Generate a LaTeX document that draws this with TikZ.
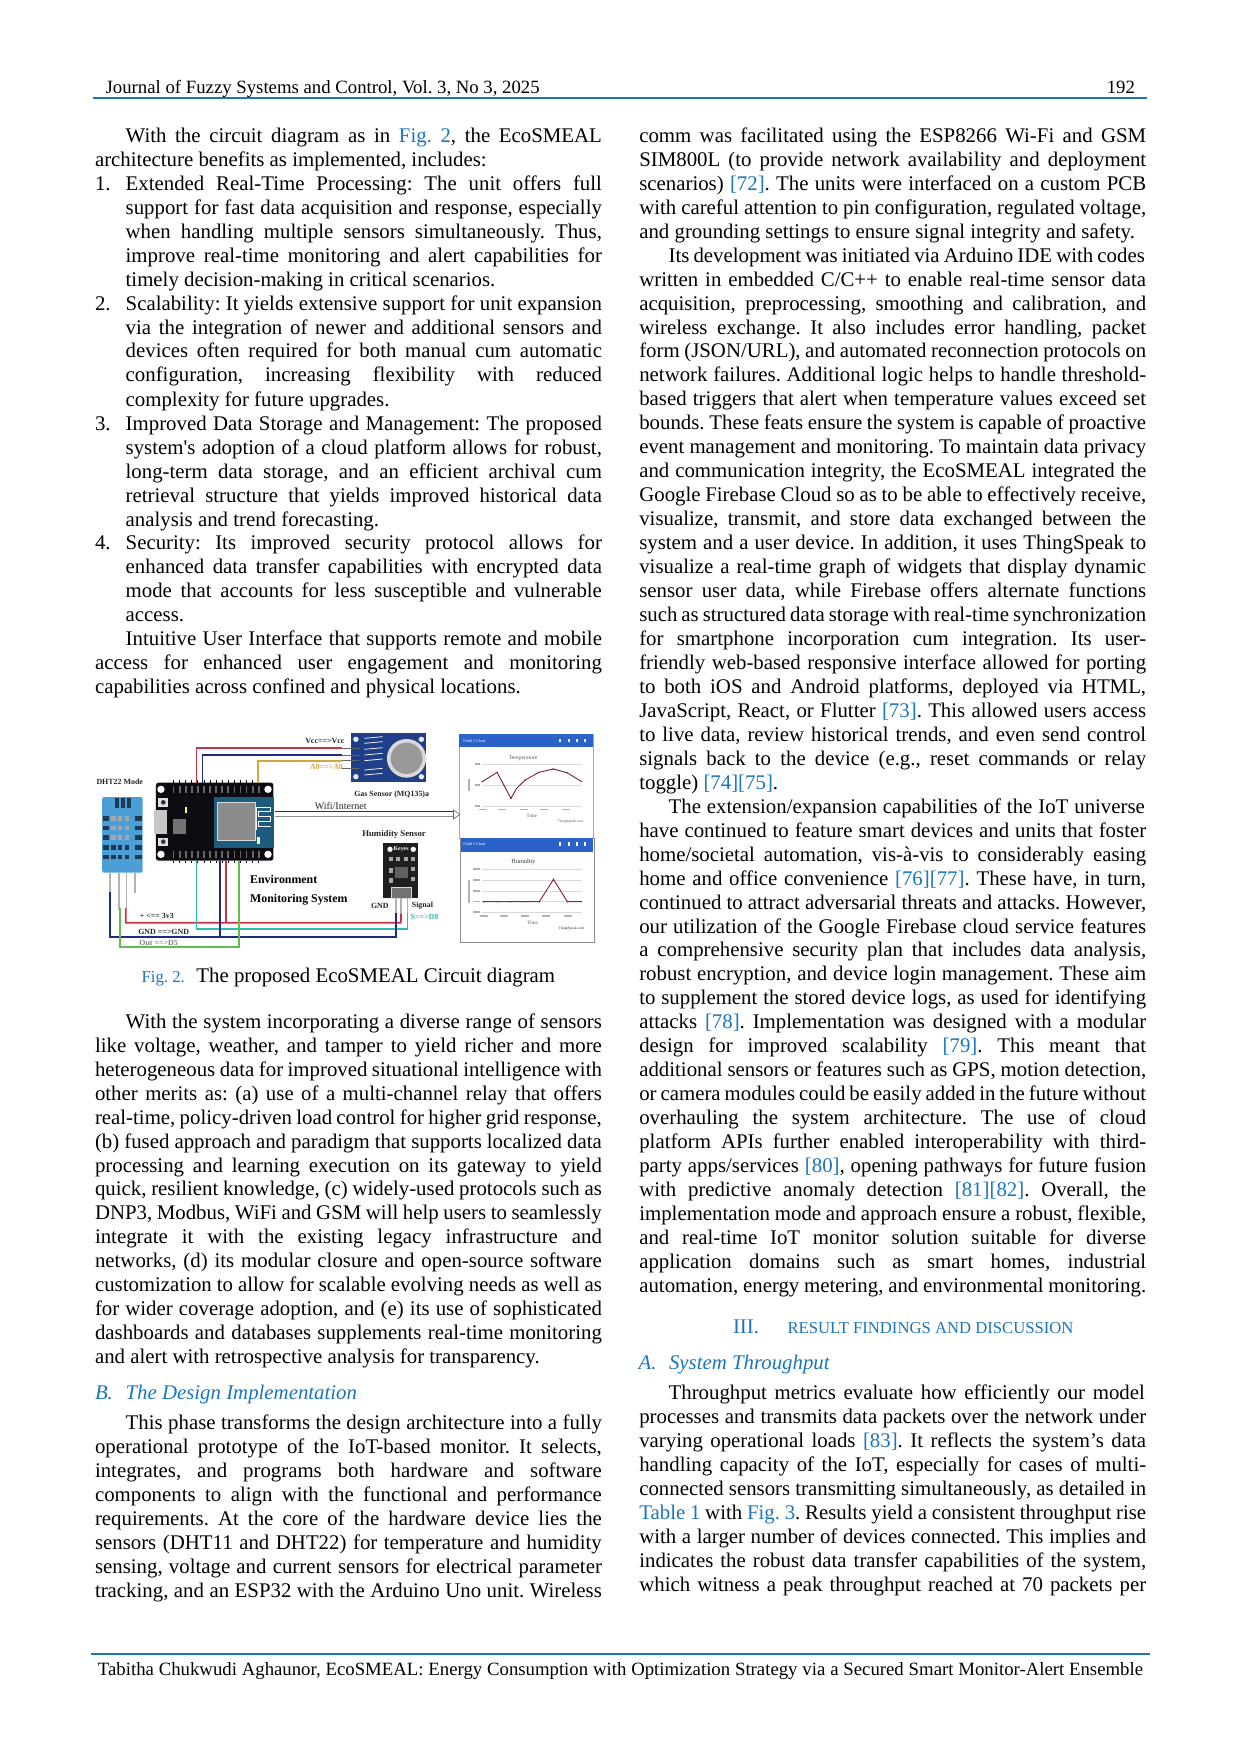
\documentclass[tikz,border=0pt]{standalone}
\usepackage{fontspec}
\setmainfont{Liberation Serif}[Ligatures=TeXOff]
\usepackage{xcolor}
\usetikzlibrary{arrows,shapes,positioning,fit,backgrounds}
\definecolor{linkblue}{RGB}{27, 117, 188}
\definecolor{pcbblack}{RGB}{12, 12, 18}
\definecolor{dhtblue}{RGB}{76, 158, 214}
\definecolor{dhtdark}{RGB}{30, 58, 80}
\definecolor{espteal}{RGB}{29, 92, 124}
\definecolor{gasnavy}{RGB}{31, 63, 136}
\definecolor{panelblue}{RGB}{42, 98, 201}
\definecolor{wirered}{RGB}{200, 51, 63}
\definecolor{wirenavy}{RGB}{28, 42, 140}
\definecolor{wiregold}{RGB}{216, 165, 60}
\definecolor{wireteal}{RGB}{45, 190, 172}
\definecolor{wiregreen}{RGB}{95, 191, 75}
\definecolor{plotred}{RGB}{130, 40, 60}
\newcommand{\lnk}[1]{\textcolor{linkblue}{#1}}
\newcommand{\jfull}[1]{\makebox[243.3pt][s]{#1}}
\newcommand{\jind}[1]{\makebox[228.6pt][s]{#1}}
\tikzset{
  bodyline/.style={anchor=base west, inner sep=0pt, outer sep=0pt, font=\fontsize{10}{12}\selectfont\frenchspacing},
  headline/.style={bodyline, text=linkblue, font=\fontsize{10}{12}\selectfont\itshape\frenchspacing},
  smallline/.style={bodyline, font=\fontsize{9}{11}\selectfont\frenchspacing},
  pagerule/.style={draw=linkblue, line width=1.1pt},
  figlabel/.style={inner sep=0pt, font=\fontsize{3.8}{4.5}\selectfont\bfseries, text=black!85},
  tinylabel/.style={inner sep=0pt, font=\fontsize{2}{2.5}\selectfont, text=black!65},
  wire/.style={line width=0.85pt},
  pinline/.style={draw=black!30, line width=0.9pt},
  gridline/.style={draw=black!15, line width=0.2pt},
  plotline/.style={draw=plotred, line width=0.45pt},
  blurtick/.style={fill=black!30}
}
\begin{document}
\begin{tikzpicture}[x=0.48pt, y=-0.48pt]
  \useasboundingbox (0,0) rectangle (1240,1754);
  \fill[white] (0,0) rectangle (1240,1754);

  % header
  \node[smallline] (journal) at (105.7,93.2) {Journal of Fuzzy Systems and Control, Vol. 3, No 3, 2025};
  \node[smallline] (pageno) at (1106.8,93.2) {192};
  \draw[pagerule] (93,97.7) -- (1147,97.7);

  % left column, above the figure
  \node[bodyline] (la1) at (125.7,142.3) {\jind{With the circuit diagram as in \lnk{Fig. 2}, the EcoSMEAL}};
  \node[bodyline] (la2) at (95,166.3) {architecture benefits as implemented, includes:};
  \node[bodyline] (numa) at (95,190.2) {1.};
  \node[bodyline] (la3) at (125.7,190.2) {\jind{Extended Real-Time Processing: The unit offers full}};
  \node[bodyline] (la4) at (125.7,214.2) {\jind{support for fast data acquisition and response, especially}};
  \node[bodyline] (la5) at (125.7,238.1) {\jind{when handling multiple sensors simultaneously. Thus,}};
  \node[bodyline] (la6) at (125.7,262.1) {\jind{improve real-time monitoring and alert capabilities for}};
  \node[bodyline] (la7) at (125.7,286.1) {timely decision-making in critical scenarios.};
  \node[bodyline] (numb) at (95,310.0) {2.};
  \node[bodyline] (la8) at (125.7,310.0) {\jind{Scalability: It yields extensive support for unit expansion}};
  \node[bodyline] (la9) at (125.7,334.0) {\jind{via the integration of newer and additional sensors and}};
  \node[bodyline] (la10) at (125.7,357.9) {\jind{devices often required for both manual cum automatic}};
  \node[bodyline] (la11) at (125.7,381.9) {\jind{configuration, increasing flexibility with reduced}};
  \node[bodyline] (la12) at (125.7,406.4) {complexity for future upgrades.};
  \node[bodyline] (numc) at (95,430.3) {3.};
  \node[bodyline] (la13) at (125.7,430.3) {\jind{Improved Data Storage and Management: The proposed}};
  \node[bodyline] (la14) at (125.7,454.3) {\jind{system's adoption of a cloud platform allows for robust,}};
  \node[bodyline] (la15) at (125.7,478.2) {\jind{long-term data storage, and an efficient archival cum}};
  \node[bodyline] (la16) at (125.7,502.2) {\jind{retrieval structure that yields improved historical data}};
  \node[bodyline] (la17) at (125.7,526.2) {analysis and trend forecasting.};
  \node[bodyline] (numd) at (95,549.6) {4.};
  \node[bodyline] (la18) at (125.7,549.6) {\jind{Security: Its improved security protocol allows for}};
  \node[bodyline] (la19) at (125.7,573.6) {\jind{enhanced data transfer capabilities with encrypted data}};
  \node[bodyline] (la20) at (125.7,597.5) {\jind{mode that accounts for less susceptible and vulnerable}};
  \node[bodyline] (la21) at (125.7,621.5) {access.};
  \node[bodyline] (la22) at (125.7,645.4) {\jind{Intuitive User Interface that supports remote and mobile}};
  \node[bodyline] (la23) at (95,669.4) {\jfull{access for enhanced user engagement and monitoring}};
  \node[bodyline] (la24) at (95,693.4) {capabilities across confined and physical locations.};

  % figure, in its own pixel grid
  \begin{scope}[shift={(90,720)}, x=0.16216pt, y=-0.16pt]
    % DHT22 sensor
    \foreach \pinx/\pinend in {60/520, 85/570, 108/570, 133/520}
      \draw[pinline] (\pinx,458) -- (\pinx,\pinend);
    \fill[dhtblue, rounded corners=1pt] (36,231) rectangle (156,458);
    \foreach \barx in {73,91,110}
      \fill[dhtdark] (\barx,235) rectangle +(12,28);
    \foreach \rowy/\midcol in {288/black!35, 317/black!35, 346/black!35, 376/dhtdark, 404/dhtdark} {
      \fill[dhtdark] (39,\rowy) rectangle +(16,14);
      \fill[dhtdark] (133,\rowy) rectangle +(22,14);
      \foreach \segx in {63,83,103}
        \fill[\midcol] (\segx,\rowy) rectangle +(13,14);
    }
    \node[figlabel] (dhtlabel) at (88,185) {DHT22 Mode};

    % NodeMCU board
    \fill[pcbblack, rounded corners=1.3pt] (195,188) rectangle (543,422);
    \foreach \holex/\holey in {210/208, 527/208, 210/403, 527/403}
      \fill[white] (\holex,\holey) circle (11);
    \foreach \padx in {245,263,...,500} {
      \fill[black!60] (\padx,198) rectangle +(5,20);
      \fill[black!60] (\padx,393) rectangle +(5,20);
      \fill[pcbblack] (\padx+1,180) rectangle +(3,8);
      \fill[pcbblack] (\padx+1,422) rectangle +(3,8);
    }
    \fill[black!22] (189,270) rectangle (227,343);
    \fill[black!55] (247,298) rectangle (283,343);
    \fill[yellow!45] (280,260) rectangle (286,278);
    \foreach \btny in {235,353} {
      \fill[black!12] (202,\btny) rectangle +(30,25);
      \fill[black!80] (217,\btny+12) circle (7);
    }
    \fill[espteal] (368,230) rectangle (545,383);
    \draw[fill=black!45, draw=black!15, line width=0.3pt] (378,247) rectangle (488,362);
    \draw[white, line width=0.4pt] (492,330) -- (492,262) -- (535,262) -- (535,275) -- (500,275) -- (500,290) -- (535,290) -- (535,305) -- (500,305) -- (500,320) -- (535,320);
    \fill[yellow!35] (495,352) rectangle (503,372);

    % gas sensor
    \fill[gasnavy] (772,40) rectangle (996,187);
    \foreach \holex/\holey in {787/58, 981/58, 787/170, 981/170}
      \fill[black!8] (\holex,\holey) circle (8);
    \fill[black!15] (937,115) circle (58);
    \fill[black!40] (937,115) circle (47);
    \foreach \marky in {55,70,88,105,122,150,165}
      \draw[white, line width=0.35pt] (812,\marky) -- (866,\marky-5);
    \foreach \pinname/\piny in {gasvcc/85, gasgnd/105, gasao/122, gasdo/145} {
      \coordinate (\pinname) at (745,\piny);
      \draw[black!60, line width=0.35pt] (745,\piny) -- (795,\piny);
    }
    \node[figlabel] (gaslabel) at (893,223) {Gas Sensor (MQ135)a};

    % humidity module
    \fill[black!88] (868,368) rectangle (972,535);
    \foreach \holex in {888,957}
      \fill[white] (\holex,388) circle (8);
    \node[inner sep=0pt, text=white, font=\fontsize{2.8}{3}\selectfont\bfseries] (keyes) at (921,388) {Keyes};
    \foreach \padx/\pady in {885/410, 905/410, 930/410, 950/410, 885/445, 885/475, 950/440, 950/470}
      \fill[black!35] (\padx,\pady) rectangle +(12,14);
    \fill[black!62] (903,440) rectangle (942,475);
    \draw[draw=black!15, fill=black!55, line width=0.35pt] (893,503) rectangle (952,535);
    \foreach \pinname/\pinx in {humg/905, humv/921, hums/940} {
      \coordinate (\pinname) at (\pinx,580);
      \draw[pinline] (\pinx,535) -- (\pinx,580);
    }
    \node[figlabel, font=\fontsize{4.2}{5}\selectfont\bfseries] (humlabel) at (900,342) {Humidity Sensor};
    \node[figlabel] (gndlabel) at (858,558) {GND};
    \node[figlabel] (signallabel) at (984,556) {Signal};
    \node[figlabel, text=wireteal] (slabel) at (990,590) {S==>D8};

    % board pins
    \coordinate (boardred) at (315,188);
    \coordinate (boardnavy) at (333,188);
    \coordinate (boardgold) at (497,188);
    \coordinate (boardteal) at (315,422);
    \coordinate (boardgnd) at (385,422);
    \coordinate (boardvcc) at (403,422);
    \coordinate (boardgreen) at (441,422);
    \coordinate (dhtgnd) at (60,515);
    \coordinate (dhtout) at (88,565);
    \coordinate (dhtvcc) at (106,565);
    \coordinate (redcorner) at (920,608);
    \coordinate (tealcorner) at (940,628);
    \coordinate (navycorner) at (905,652);
    \coordinate (greencorner) at (441,682);

    % wires
    \draw[wire, wirered] (boardred) |- (gasvcc);
    \draw[wire, wirenavy] (boardnavy) |- (gasgnd);
    \draw[wire, wiregold] (boardgold) |- (gasao);
    \draw[wire, wirered] (dhtvcc) |- (redcorner) -- (humv);
    \draw[wire, wirered] (boardvcc) -- (boardvcc |- redcorner);
    \draw[wire, wireteal] (boardteal) |- (tealcorner) -- (hums);
    \draw[wire, wirenavy] (dhtgnd) |- (navycorner) -- (humg);
    \draw[wire, wirenavy] (boardgnd) -- (boardgnd |- navycorner);
    \draw[wire, wiregreen] (dhtout) |- (greencorner) -- (boardgreen);

    \node[figlabel] (vcclabel) at (695,62) {Vcc==>Vcc};
    \node[figlabel, text=wiregold] (aolabel) at (700,140) {A0==>A0};
    \node[figlabel] (plabel) at (198,588) {+ <== 3v3};
    \node[figlabel] (glabel) at (218,636) {GND ==>GND};
    \node[figlabel, text=black!50] (olabel) at (203,668) {Out ==>D5};
    \node[inner sep=0pt, font=\fontsize{5.7}{7}\selectfont\bfseries, anchor=base west] (envlabel) at (473,490) {Environment};
    \node[inner sep=0pt, font=\fontsize{5.7}{7}\selectfont\bfseries, anchor=base west] (monlabel) at (473,547) {Monitoring System};
    \node[figlabel, font=\fontsize{4.8}{5}\selectfont] (wifilabel) at (742,257) {Wifi/Internet};

    % dashboards
    \draw[draw=black!35, fill=white, line width=0.3pt] (1093,42) rectangle (1490,354);
    \fill[panelblue] (1093,42) rectangle (1490,82);
    \draw[draw=black!45, fill=white, line width=0.3pt] (1097,355) rectangle (1492,667);
    \fill[panelblue] (1097,355) rectangle (1490,395);
    \node[tinylabel, text=white] (headup) at (1138,62) {Field 1 Chart};
    \node[tinylabel, text=white] (headlow) at (1138,372) {Field 1 Chart};
    \foreach \iconx in {1390,1417,1442,1466} {
      \fill[white] (\iconx-3,57) rectangle +(6,10);
      \fill[white] (\iconx-3,367) rectangle +(6,10);
    }

    % temperature chart
    \foreach \gridy in {133,195,258} {
      \draw[gridline] (1161,\gridy) -- (1455,\gridy);
      \fill[blurtick] (1140,\gridy-3) rectangle +(14,5);
    }
    \foreach \tickx in {1162,1220,1285,1345,1408}
      \fill[blurtick] (\tickx-12,266) rectangle +(24,5);
    \fill[blurtick] (1119,178) rectangle +(5,36);
    \draw[plotline] (1161,185) -- (1205,157) -- (1226,197) -- (1246,235) -- (1263,205) -- (1288,180) -- (1329,157) -- (1371,147) -- (1412,158) -- (1454,184);
    \foreach \ptx/\pty in {1161/185, 1205/157, 1226/197, 1246/235, 1288/180, 1329/157, 1371/147, 1412/158, 1454/184}
      \fill[plotred] (\ptx,\pty) circle (2.5);
    \node[tinylabel, font=\fontsize{2.7}{3}\selectfont] (temptitle) at (1282,115) {Temperature};
    \node[tinylabel, font=\fontsize{2.4}{3}\selectfont] (timeup) at (1308,287) {Time};
    \node[tinylabel, font=\fontsize{1.8}{2}\selectfont] (speakup) at (1423,305) {ThingSpeak.com};

    % humidity chart
    \foreach \gridy in {448,480,513,545,577} {
      \draw[gridline] (1161,\gridy) -- (1455,\gridy);
      \fill[blurtick] (1135,\gridy-3) rectangle +(19,5);
    }
    \foreach \tickx in {1165,1226,1288,1351,1415}
      \fill[blurtick] (\tickx-12,586) rectangle +(24,5);
    \fill[blurtick] (1119,480) rectangle +(5,68);
    \draw[plotline] (1164,545) -- (1330,545) -- (1372,478) -- (1413,545) -- (1454,545);
    \foreach \ptx/\pty in {1164/545, 1206/545, 1246/545, 1288/545, 1330/545, 1372/478, 1413/545, 1454/545}
      \fill[plotred] (\ptx,\pty) circle (2.5);
    \node[tinylabel, text=black!80, font=\fontsize{3}{3.5}\selectfont] (humtitle) at (1283,426) {Humidity};
    \node[tinylabel, font=\fontsize{2.4}{3}\selectfont] (timelow) at (1310,608) {Time};
    \node[tinylabel, text=black!80, font=\fontsize{1.8}{2}\selectfont] (speaklow) at (1425,625) {ThingSpeak.com};

    % wifi link
    \coordinate (wifistarta) at (548,274);
    \coordinate (wifienda) at (1076,274);
    \coordinate (wifistartb) at (548,290);
    \coordinate (wifiendb) at (1076,290);
    \coordinate (wifitip) at (1095,283);
    \draw[black!80, line width=0.35pt] (wifistarta) -- (wifienda);
    \draw[black!45, line width=0.35pt] (wifistartb) -- (wifiendb);
    \draw[black!60, fill=white, line width=0.3pt] (1076,270) -- (wifitip) -- (1076,297) -- cycle;
  \end{scope}

  % caption
  \node[bodyline, font=\fontsize{8}{10}\selectfont\frenchspacing, text=linkblue] (figtag) at (141.7,982.7) {Fig. 2.};
  \node[bodyline] (figcap) at (196.4,982.7) {The proposed EcoSMEAL Circuit diagram};

  % left column, below the figure
  \node[bodyline] (lb1) at (125.7,1028.2) {\jind{With the system incorporating a diverse range of sensors}};
  \node[bodyline] (lb2) at (95,1052.2) {\jfull{like voltage, weather, and tamper to yield richer and more}};
  \node[bodyline] (lb3) at (95,1076.1) {\jfull{heterogeneous data for improved situational intelligence with}};
  \node[bodyline] (lb4) at (95,1100.1) {\jfull{other merits as: (a) use of a multi-channel relay that offers}};
  \node[bodyline] (lb5) at (95,1124.0) {\jfull{real-time, policy-driven load control for higher grid response,}};
  \node[bodyline] (lb6) at (95,1148.0) {\jfull{(b) fused approach and paradigm that supports localized data}};
  \node[bodyline] (lb7) at (95,1172.0) {\jfull{processing and learning execution on its gateway to yield}};
  \node[bodyline] (lb8) at (95,1195.9) {\jfull{quick, resilient knowledge, (c) widely-used protocols such as}};
  \node[bodyline] (lb9) at (95,1219.9) {\jfull{DNP3, Modbus, WiFi and GSM will help users to seamlessly}};
  \node[bodyline] (lb10) at (95,1243.8) {\jfull{integrate it with the existing legacy infrastructure and}};
  \node[bodyline] (lb11) at (95,1267.8) {\jfull{networks, (d) its modular closure and open-source software}};
  \node[bodyline] (lb12) at (95,1291.8) {\jfull{customization to allow for scalable evolving needs as well as}};
  \node[bodyline] (lb13) at (95,1315.7) {\jfull{for wider coverage adoption, and (e) its use of sophisticated}};
  \node[bodyline] (lb14) at (95,1339.7) {\jfull{dashboards and databases supplements real-time monitoring}};
  \node[bodyline] (lb15) at (95,1363.6) {and alert with retrospective analysis for transparency.};
  \node[headline] (secbnum) at (95,1399) {B.};
  \node[headline] (secb) at (125.6,1399) {The Design Implementation};
  \node[bodyline] (lc1) at (125.7,1429.3) {\jind{This phase transforms the design architecture into a fully}};
  \node[bodyline] (lc2) at (95,1453.4) {\jfull{operational prototype of the IoT-based monitor. It selects,}};
  \node[bodyline] (lc3) at (95,1477.4) {\jfull{integrates, and programs both hardware and software}};
  \node[bodyline] (lc4) at (95,1501.5) {\jfull{components to align with the functional and performance}};
  \node[bodyline] (lc5) at (95,1525.5) {\jfull{requirements. At the core of the hardware device lies the}};
  \node[bodyline] (lc6) at (95,1549.6) {\jfull{sensors (DHT11 and DHT22) for temperature and humidity}};
  \node[bodyline] (lc7) at (95,1573.6) {\jfull{sensing, voltage and current sensors for electrical parameter}};
  \node[bodyline] (lc8) at (95,1597.7) {\jfull{tracking, and an ESP32 with the Arduino Uno unit. Wireless}};

  % right column
  \node[bodyline] (ra1) at (639.3,142.3) {\jfull{comm was facilitated using the ESP8266 Wi-Fi and GSM}};
  \node[bodyline] (ra2) at (639.3,166.3) {\jfull{SIM800L (to provide network availability and deployment}};
  \node[bodyline] (ra3) at (639.3,190.2) {\jfull{scenarios) \lnk{[72]}. The units were interfaced on a custom PCB}};
  \node[bodyline] (ra4) at (639.3,214.2) {\jfull{with careful attention to pin configuration, regulated voltage,}};
  \node[bodyline] (ra5) at (639.3,238.1) {and grounding settings to ensure signal integrity and safety.};
  \node[bodyline] (ra6) at (668.6,262.1) {\jind{Its development was initiated via Arduino IDE with codes}};
  \node[bodyline] (ra7) at (639.3,286.1) {\jfull{written in embedded C/C++ to enable real-time sensor data}};
  \node[bodyline] (ra8) at (639.3,310.0) {\jfull{acquisition, preprocessing, smoothing and calibration, and}};
  \node[bodyline] (ra9) at (639.3,334.0) {\jfull{wireless exchange. It also includes error handling, packet}};
  \node[bodyline] (ra10) at (639.3,357.9) {\jfull{form (JSON/URL), and automated reconnection protocols on}};
  \node[bodyline] (ra11) at (639.3,381.9) {\jfull{network failures. Additional logic helps to handle threshold-}};
  \node[bodyline] (ra12) at (639.3,405.9) {\jfull{based triggers that alert when temperature values exceed set}};
  \node[bodyline] (ra13) at (639.3,429.8) {\jfull{bounds. These feats ensure the system is capable of proactive}};
  \node[bodyline] (ra14) at (639.3,453.8) {\jfull{event management and monitoring. To maintain data privacy}};
  \node[bodyline] (ra15) at (639.3,477.7) {\jfull{and communication integrity, the EcoSMEAL integrated the}};
  \node[bodyline] (ra16) at (639.3,501.7) {\jfull{Google Firebase Cloud so as to be able to effectively receive,}};
  \node[bodyline] (ra17) at (639.3,525.7) {\jfull{visualize, transmit, and store data exchanged between the}};
  \node[bodyline] (ra18) at (639.3,549.6) {\jfull{system and a user device. In addition, it uses ThingSpeak to}};
  \node[bodyline] (ra19) at (639.3,573.6) {\jfull{visualize a real-time graph of widgets that display dynamic}};
  \node[bodyline] (ra20) at (639.3,597.5) {\jfull{sensor user data, while Firebase offers alternate functions}};
  \node[bodyline] (ra21) at (639.3,621.5) {\jfull{such as structured data storage with real-time synchronization}};
  \node[bodyline] (ra22) at (639.3,645.4) {\jfull{for smartphone incorporation cum integration. Its user-}};
  \node[bodyline] (ra23) at (639.3,669.4) {\jfull{friendly web-based responsive interface allowed for porting}};
  \node[bodyline] (ra24) at (639.3,693.4) {\jfull{to both iOS and Android platforms, deployed via HTML,}};
  \node[bodyline] (ra25) at (639.3,717.3) {\jfull{JavaScript, React, or Flutter \lnk{[73]}. This allowed users access}};
  \node[bodyline] (ra26) at (639.3,741.3) {\jfull{to live data, review historical trends, and even send control}};
  \node[bodyline] (ra27) at (639.3,765.2) {\jfull{signals back to the device (e.g., reset commands or relay}};
  \node[bodyline] (ra28) at (639.3,789.2) {toggle) \lnk{[74][75]}.};
  \node[bodyline] (ra29) at (668.6,813.2) {\jind{The extension/expansion capabilities of the IoT universe}};
  \node[bodyline] (ra30) at (639.3,837.1) {\jfull{have continued to feature smart devices and units that foster}};
  \node[bodyline] (ra31) at (639.3,861.1) {\jfull{home/societal automation, vis-à-vis to considerably easing}};
  \node[bodyline] (ra32) at (639.3,885.0) {\jfull{home and office convenience \lnk{[76][77]}. These have, in turn,}};
  \node[bodyline] (ra33) at (639.3,909.0) {\jfull{continued to attract adversarial threats and attacks. However,}};
  \node[bodyline] (ra34) at (639.3,933.0) {\jfull{our utilization of the Google Firebase cloud service features}};
  \node[bodyline] (ra35) at (639.3,956.9) {\jfull{a comprehensive security plan that includes data analysis,}};
  \node[bodyline] (ra36) at (639.3,980.9) {\jfull{robust encryption, and device login management. These aim}};
  \node[bodyline] (ra37) at (639.3,1004.8) {\jfull{to supplement the stored device logs, as used for identifying}};
  \node[bodyline] (ra38) at (639.3,1028.8) {\jfull{attacks \lnk{[78]}. Implementation was designed with a modular}};
  \node[bodyline] (ra39) at (639.3,1052.7) {\jfull{design for improved scalability \lnk{[79]}. This meant that}};
  \node[bodyline] (ra40) at (639.3,1076.7) {\jfull{additional sensors or features such as GPS, motion detection,}};
  \node[bodyline] (ra41) at (639.3,1100.7) {\jfull{or camera modules could be easily added in the future without}};
  \node[bodyline] (ra42) at (639.3,1124.6) {\jfull{overhauling the system architecture. The use of cloud}};
  \node[bodyline] (ra43) at (639.3,1148.6) {\jfull{platform APIs further enabled interoperability with third-}};
  \node[bodyline] (ra44) at (639.3,1172.5) {\jfull{party apps/services \lnk{[80]}, opening pathways for future fusion}};
  \node[bodyline] (ra45) at (639.3,1196.5) {\jfull{with predictive anomaly detection \lnk{[81][82]}. Overall, the}};
  \node[bodyline] (ra46) at (639.3,1220.5) {\jfull{implementation mode and approach ensure a robust, flexible,}};
  \node[bodyline] (ra47) at (639.3,1244.4) {\jfull{and real-time IoT monitor solution suitable for diverse}};
  \node[bodyline] (ra48) at (639.3,1268.4) {\jfull{application domains such as smart homes, industrial}};
  \node[bodyline] (ra49) at (639.3,1292.3) {\jfull{automation, energy metering, and environmental monitoring.}};

  \node[bodyline, text=linkblue] (secnum) at (733,1333.7) {III.};
  \node[bodyline, text=linkblue, font=\fontsize{8}{10}\selectfont] (sectitle) at (787.5,1333.7) {RESULT FINDINGS AND DISCUSSION};
  \node[headline] (secanum) at (638.6,1369) {A.};
  \node[headline] (seca) at (669,1369) {System Throughput};
  \node[bodyline] (rb1) at (668.6,1399.7) {\jind{Throughput metrics evaluate how efficiently our model}};
  \node[bodyline] (rb2) at (639.3,1423.7) {\jfull{processes and transmits data packets over the network under}};
  \node[bodyline] (rb3) at (639.3,1447.6) {\jfull{varying operational loads \lnk{[83]}. It reflects the system’s data}};
  \node[bodyline] (rb4) at (639.3,1471.6) {\jfull{handling capacity of the IoT, especially for cases of multi-}};
  \node[bodyline] (rb5) at (639.3,1495.5) {\jfull{connected sensors transmitting simultaneously, as detailed in}};
  \node[bodyline] (rb6) at (639.3,1519.5) {\jfull{\lnk{Table 1} with \lnk{Fig. 3}. Results yield a consistent throughput rise}};
  \node[bodyline] (rb7) at (639.3,1543.5) {\jfull{with a larger number of devices connected. This implies and}};
  \node[bodyline] (rb8) at (639.3,1567.4) {\jfull{indicates the robust data transfer capabilities of the system,}};
  \node[bodyline] (rb9) at (639.3,1591.4) {\jfull{which witness a peak throughput reached at 70 packets per}};

  % footer
  \draw[pagerule] (91,1654.3) -- (1150,1654.3);
  \node[smallline] (footer) at (98,1675.3) {\makebox[501.6pt][s]{Tabitha Chukwudi Aghaunor, EcoSMEAL: Energy Consumption with Optimization Strategy via a Secured Smart Monitor-Alert Ensemble}};
\end{tikzpicture}
\end{document}
